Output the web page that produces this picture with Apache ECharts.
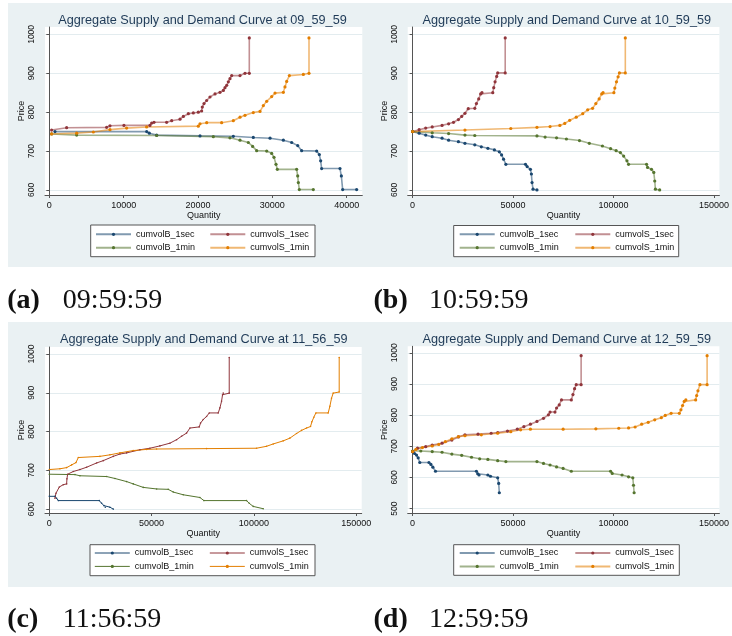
<!DOCTYPE html>
<html>
<head>
<meta charset="utf-8">
<script src="https://cdn.jsdelivr.net/npm/echarts@6/dist/echarts.min.js"></script>
<style>
  html, body { margin: 0; padding: 0; background: #fff; }
  #chart { width: 732px; height: 636px; }
</style>
</head>
<body>
<div id="chart"></div>
<script>
// series names and tick labels
const seriesNames = ["cumvolB_1sec", "cumvolS_1sec", "cumvolB_1min", "cumvolS_1min"];
const titleTimes = ["09_59_59", "10_59_59", "11_56_59", "12_59_59"];
const captionTags = ["(a)", "(b)", "(c)", "(d)"];
const captionTimes = ["09:59:59", "10:59:59", "11:56:59", "12:59:59"];
const priceTicks = [600, 700, 800, 900, 1000];
const priceTicksD = [500, 600, 700, 800, 900, 1000];
const qtyTicksA = [0, 10000, 20000, 30000, 40000];
const qtyTicks = [0, 50000, 100000, 150000];

// (a) 09:59:59  [quantity, price]
const a_B1sec = [[760,750],[13100,750],[13450,746],[14440,741],[20270,739],[24750,738],[27440,735],[29690,733],[31480,728],[32600,722],[33410,714],[33940,701],[35960,700],[36320,691],[36500,675],[36630,655],[39100,655],[39280,636],[39460,601],[41340,601]];
const a_S1sec = [[310,754],[2330,760],[7710,761],[8160,765],[10040,766],[13540,766],[13770,772],[14080,774],[15780,774],[16460,778],[17580,782],[18030,789],[18700,796],[19370,798],[20040,800],[20490,803],[20580,813],[20810,822],[21160,830],[21610,839],[22290,847],[22960,851],[23410,856],[23630,863],[23860,869],[24080,878],[24300,886],[24530,894],[25650,894],[26320,900],[26900,900],[26900,991]];
const a_B1min = [[310,744],[3680,741],[14440,740],[22060,737],[24300,734],[25650,728],[26770,722],[27350,712],[27890,701],[29240,700],[29910,694],[30220,684],[30490,666],[30670,653],[33270,653],[33410,636],[33500,619],[33630,601],[35510,601]];
const a_S1min = [[310,744],[3680,746],[5920,749],[8160,755],[10400,759],[13090,762],[20040,764],[20270,770],[21170,773],[23180,773],[24750,778],[25650,787],[26320,792],[27440,799],[28340,802],[28790,817],[29240,828],[29910,840],[30360,849],[31480,851],[31700,865],[31930,879],[32290,894],[34170,897],[34930,900],[34930,991]];

// (b) 10:59:59
const b_B1sec = [[0,750],[3260,746],[6520,741],[9770,737],[14660,733],[17920,728],[22800,724],[26060,720],[30950,716],[34200,711],[37460,707],[40720,703],[43160,698],[44300,690],[45280,679],[46420,666],[56190,666],[57000,660],[58630,653],[59120,641],[59450,619],[59940,602],[61890,600]];
const b_S1sec = [[0,750],[3260,755],[6520,759],[9770,762],[14660,766],[17920,770],[20360,774],[22800,781],[24430,789],[26060,797],[27690,809],[30950,810],[31760,822],[32900,834],[33880,847],[34530,850],[39900,850],[40390,863],[41040,878],[41860,892],[42350,901],[46090,901],[46090,991]];
const b_B1min = [[0,750],[9770,747],[17920,745],[26060,741],[30950,740],[61890,739],[65960,736],[71660,734],[76550,731],[83060,727],[87950,720],[94470,713],[98540,706],[101300,701],[103420,696],[105050,687],[106680,675],[107490,666],[116450,666],[116940,658],[118900,653],[120040,645],[120520,623],[120850,602],[122970,600]];
const b_S1min = [[0,750],[26060,754],[48860,758],[61890,761],[68410,763],[73290,766],[75740,771],[78180,779],[81440,787],[84690,796],[87140,806],[89580,810],[91210,822],[92840,834],[94140,847],[94790,850],[100170,850],[100650,862],[101470,878],[102280,891],[102930,901],[105870,901],[105870,991]];

// (c) 11:56:59
const c_B1sec = [[0,633],[2770,633],[3580,628],[4400,622],[24430,622],[25570,615],[26710,609],[27360,605],[29640,605],[31270,600]];
const c_S1sec = [[2770,628],[3260,641],[4890,657],[6840,663],[8470,665],[8630,678],[8960,690],[11730,697],[14980,702],[18240,708],[23130,719],[26390,725],[31270,736],[34530,742],[37790,745],[44300,753],[49190,757],[54070,763],[58960,770],[62220,779],[64660,788],[67100,796],[68730,809],[73290,812],[73940,822],[75250,831],[76880,839],[78180,848],[82580,848],[83390,861],[84200,878],[84690,895],[85020,899],[87950,899],[87950,991]];
const c_B1min = [[0,690],[12540,689],[14980,686],[28010,684],[32090,679],[37790,671],[41040,665],[45930,656],[52440,652],[58140,651],[60590,644],[65470,637],[73620,630],[75570,622],[96420,622],[97720,615],[99680,607],[104560,601]];
const c_S1min = [[0,702],[5210,704],[8470,707],[10910,714],[13030,720],[14170,733],[24760,736],[29640,740],[34530,745],[41040,751],[47560,754],[52440,755],[76880,756],[101300,757],[106190,762],[109450,768],[114330,776],[117590,783],[120850,795],[123290,803],[125740,809],[127690,813],[128340,825],[129320,837],[130300,848],[136320,848],[137140,865],[137950,886],[138760,899],[141700,902],[141700,991]];

// (d) 12:59:59
const d_B1sec = [[0,683],[980,677],[1950,672],[2770,663],[3580,648],[8140,648],[9120,642],[10100,633],[11400,620],[31760,620],[32410,612],[33060,608],[37460,608],[38760,604],[42350,599],[42840,581],[43160,551]];
const d_S1sec = [[0,683],[2440,694],[6520,699],[9770,704],[14660,710],[19540,720],[22800,730],[26060,737],[32570,739],[39090,742],[42350,744],[47230,749],[52120,755],[55380,763],[58630,771],[61890,780],[65150,790],[67590,801],[68410,810],[70850,810],[71660,823],[72970,833],[74110,849],[78990,849],[79810,866],[80620,885],[81430,898],[83880,898],[83880,991]];
const d_B1min = [[0,685],[4070,685],[9770,683],[14660,681],[19540,675],[24430,671],[29320,665],[33390,660],[37460,658],[42350,654],[46420,651],[61890,651],[65150,645],[68410,640],[71660,634],[74920,629],[78990,620],[98540,620],[99350,613],[104240,608],[107490,602],[109610,599],[109940,575],[110260,551]];
const d_S1min = [[0,683],[1630,690],[4890,696],[9770,701],[13030,706],[16290,715],[19540,724],[22800,731],[26060,734],[34200,737],[42350,742],[48860,747],[53750,753],[58630,755],[74920,755],[91210,756],[102610,758],[107490,759],[110750,762],[114010,771],[117270,777],[120520,785],[123780,792],[125740,799],[128670,806],[132740,806],[133550,817],[134370,831],[135180,844],[136000,849],[140880,849],[141370,863],[142020,878],[143000,898],[146580,898],[146580,991]];

const colors = ["#1a476f", "#90353b", "#55752f", "#e37e00"];
const sans = '"Liberation Sans", Arial, sans-serif';
const serif = '"Liberation Serif", "Times New Roman", serif';
const axisColor = "#555";

// layout of the four panels
const panels = [
  { data: [a_B1sec, a_S1sec, a_B1min, a_S1min], grid: [45, 27, 317.3, 168], x: [-580, 42100], y: [587, 1019],
    xt: qtyTicksA, yt: priceTicks, title: [202.5, 20.7], leg: [95, 209.3, 229.8], box: [90.7, 225, 224.3, 31.7], cap: [7.3, 62.7, 301], thin: false },
  { data: [b_B1sec, b_S1sec, b_B1min, b_S1min], grid: [407.7, 27, 317.6, 168], x: [-2440, 152700], y: [587, 1019],
    xt: qtyTicks, yt: priceTicks, title: [566.8, 20.7], leg: [458.7, 574.3, 229.8], box: [453.7, 225.5, 225, 31.2], cap: [373.5, 428.9, 301], thin: false },
  { data: [c_B1sec, c_S1sec, c_B1min, c_S1min], grid: [45, 347, 316.7, 166], x: [-2100, 152700], y: [590, 1018],
    xt: qtyTicks, yt: priceTicks, title: [203.8, 339.7], leg: [94.3, 209.3, 548.5], box: [90, 544.7, 225, 31], cap: [7.3, 62.7, 620], thin: true },
  { data: [d_B1sec, d_S1sec, d_B1min, d_S1min], grid: [407.7, 346.3, 317.6, 166.7], x: [-2440, 152700], y: [486, 1021],
    xt: qtyTicks, yt: priceTicksD, title: [566.8, 339.7], leg: [458.7, 574.3, 548.5], box: [453.7, 544.7, 225.6, 30.6], cap: [373.5, 428.9, 620], thin: false },
];

const grids = [], xAxes = [], yAxes = [], series = [], legends = [];
const elements = [
  { type: "rect", z: -10, silent: true, shape: { x: 8, y: 3, width: 724, height: 264 }, style: { fill: "#eaf1f3" } },
  { type: "rect", z: -10, silent: true, shape: { x: 8, y: 322, width: 724, height: 265 }, style: { fill: "#eaf1f3" } },
];

panels.forEach((p, i) => {
  grids.push({
    left: p.grid[0], top: p.grid[1], width: p.grid[2], height: p.grid[3],
    show: true, backgroundColor: "#fff", borderWidth: 0,
  });
  xAxes.push({
    type: "value", gridIndex: i, min: p.x[0], max: p.x[1],
    name: "Quantity", nameLocation: "middle", nameGap: 15.5,
    nameTextStyle: { fontSize: 9, color: "#111", fontFamily: sans },
    axisLine: { show: true, lineStyle: { color: axisColor, width: 1 } },
    axisTick: { show: true, length: 3, lineStyle: { color: axisColor }, customValues: p.xt },
    axisLabel: { fontSize: 9, color: "#111", fontFamily: sans, margin: 6.5, customValues: p.xt,
      formatter: (v) => String(v) },
    splitLine: { show: false },
  });
  yAxes.push({
    type: "value", gridIndex: i, min: p.y[0], max: p.y[1],
    name: "Price", nameLocation: "middle", nameGap: 17,
    nameTextStyle: { fontSize: 9, color: "#111", fontFamily: sans },
    axisLine: { show: true, lineStyle: { color: axisColor, width: 1 } },
    axisTick: { show: true, length: 3, lineStyle: { color: axisColor }, customValues: p.yt },
    axisLabel: { fontSize: 8.5, color: "#111", fontFamily: sans, margin: 9, rotate: 90, customValues: p.yt,
      formatter: (v) => String(v) },
    splitLine: { show: true, lineStyle: { color: "#e3ecef", width: 1 } },
  });
  p.data.forEach((d, k) => {
    series.push({
      name: seriesNames[k], type: "line", data: d,
      xAxisIndex: i, yAxisIndex: i,
      symbol: "circle", showSymbol: true, showAllSymbol: true,
      symbolSize: p.thin ? 1.6 : 3.2,
      itemStyle: { color: colors[k] },
      lineStyle: { color: colors[k], width: p.thin ? 1 : 1.6, opacity: p.thin ? 1 : 0.55 },
      emphasis: { disabled: true }, silent: true, animation: false,
    });
  });
  const legItem = (n) => p.thin ? { name: n, lineStyle: { width: 1, opacity: 1 } } : n;
  [[0, 2], [1, 3]].forEach((pair, c) => {
    legends.push({
      left: p.leg[c], top: p.leg[2], orient: "vertical", padding: 0,
      itemWidth: 35, itemHeight: 4, itemGap: 4.4, selectedMode: false, z: 6,
      textStyle: { fontSize: 9, color: "#111", fontFamily: sans },
      data: pair.map((k) => legItem(seriesNames[k])),
    });
  });
  elements.push({ type: "rect", z: 1, silent: true,
    shape: { x: p.box[0], y: p.box[1], width: p.box[2], height: p.box[3] },
    style: { fill: "#fff", stroke: "#555", lineWidth: 1 } });
  elements.push({ type: "text", z: 5, silent: true, x: p.title[0], y: p.title[1],
    style: { text: "Aggregate Supply and Demand Curve at " + titleTimes[i],
      font: "12.7px " + sans, fill: "#1f3a57",
      align: "center", verticalAlign: "middle", textAlign: "center", textVerticalAlign: "middle" } });
  elements.push({ type: "text", z: 5, silent: true, x: p.cap[0], y: p.cap[2],
    style: { text: captionTags[i], font: "bold 28px " + serif, fill: "#111",
      align: "left", verticalAlign: "middle", textAlign: "left", textVerticalAlign: "middle" } });
  elements.push({ type: "text", z: 5, silent: true, x: p.cap[1], y: p.cap[2],
    style: { text: captionTimes[i], font: "28px " + serif, fill: "#111",
      align: "left", verticalAlign: "middle", textAlign: "left", textVerticalAlign: "middle" } });
});

const myChart = echarts.init(document.getElementById("chart"), null, { renderer: "canvas" });
myChart.setOption({
  backgroundColor: "#fff",
  animation: false,
  textStyle: { fontFamily: sans },
  grid: grids,
  xAxis: xAxes,
  yAxis: yAxes,
  legend: legends,
  series: series,
  graphic: { elements: elements },
});
</script>
</body>
</html>
